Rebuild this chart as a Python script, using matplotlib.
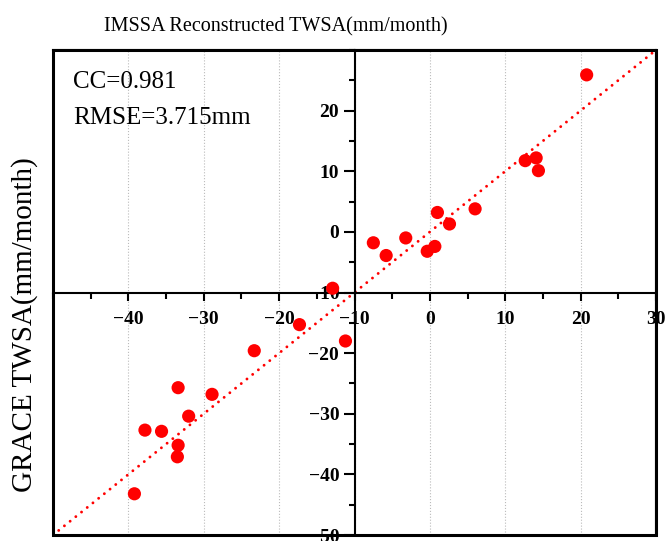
import matplotlib
matplotlib.use("Agg")
import matplotlib.pyplot as plt
from matplotlib.patches import Rectangle
from matplotlib.ticker import MultipleLocator

plt.rcParams["font.family"] = ["Liberation Serif", "DejaVu Serif"]

# IMSSA reconstructed vs GRACE TWSA (mm/month)
imssa = [20.8, 12.65, 14.1, 14.4, 6.0, 1.0, 2.6, -3.2, -7.5, -5.8, -0.35, 0.66,
         -12.9, -17.3, -11.2, -23.3, -33.4, -28.9, -32.0, -37.8, -35.6, -33.4,
         -33.5, -39.2]
grace = [25.9, 11.75, 12.2, 10.1, 3.8, 3.2, 1.3, -1.0, -1.8, -3.9, -3.2, -2.4,
         -9.3, -15.3, -18.0, -19.6, -25.7, -26.8, -30.4, -32.7, -32.9, -35.2,
         -37.1, -43.2]
lims = [-50, 30]
x_ticks = [-40, -30, -20, -10, 0, 10, 20, 30]
y_ticks = [-50, -40, -30, -20, -10, 0, 10, 20]
cc_text = "CC=0.981"
rmse_text = "RMSE=3.715mm"

fig = plt.figure(figsize=(6.66, 5.41), dpi=100)
ax = fig.add_axes([53 / 666, 1 - 535 / 541, (656 - 53) / 666, (535 - 50) / 541])

# 1:1 line and points
ax.plot(lims, lims, color="red", lw=2.1, linestyle=(0, (0.01, 2.5)),
        dash_capstyle="round", zorder=2)
ax.scatter(imssa, grace, s=90, color="red", edgecolors="none", zorder=3)

ax.set_xlim(lims)
ax.set_ylim(lims)

# axes crossing at (-10, -10)
ax.spines["left"].set_position(("data", -10))
ax.spines["bottom"].set_position(("data", -10))
for sp in ax.spines.values():
    sp.set_linewidth(1.5)
ax.add_patch(Rectangle((0, 0), 1, 1, transform=ax.transAxes, fill=False,
                       lw=2.2, edgecolor="black", clip_on=False, zorder=5))

ax.set_xticks(x_ticks)
ax.set_yticks(y_ticks)
ax.xaxis.set_minor_locator(MultipleLocator(5))
ax.yaxis.set_minor_locator(MultipleLocator(5))
ax.tick_params(which="major", direction="out", length=6, width=1.5,
               labelsize=14, pad=7)
ax.tick_params(axis="y", which="major", length=8, pad=3)
ax.tick_params(which="minor", direction="out", length=4, width=1.5)
for lab in ax.get_xticklabels() + ax.get_yticklabels():
    lab.set_fontweight("bold")

ax.grid(axis="x", linestyle=":", color="#bbbbbb", lw=0.8)
ax.set_axisbelow(True)

fig.text(73 / 666, 1 - 82 / 541, cc_text, fontsize=18, va="center", ha="left")
fig.text(73 / 666, 1 - 118 / 541, rmse_text, fontsize=18, va="center", ha="left")

fig.text(276 / 666, 1 - 27 / 541, "IMSSA Reconstructed TWSA(mm/month)",
         fontsize=14.5, ha="center", va="center")
fig.text(25 / 666, 1 - 325 / 541, "GRACE TWSA(mm/month)", fontsize=21,
         rotation=90, ha="center", va="center")

fig.savefig("out.png", dpi=100)
